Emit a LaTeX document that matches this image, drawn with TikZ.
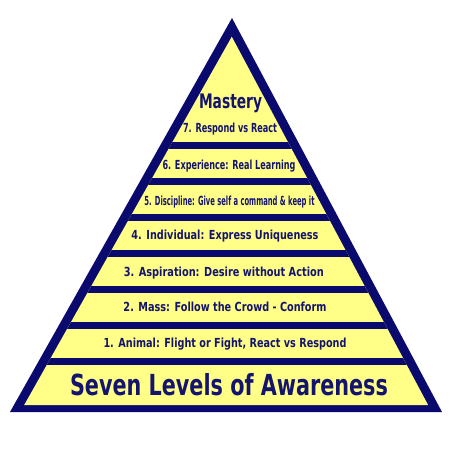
\documentclass[tikz,border=0pt]{standalone}
\usepackage{fontspec}
\setmainfont{DejaVu Sans}
\usepackage{graphicx}
\definecolor{navy}{HTML}{0A0A6E}
\definecolor{txtnavy}{HTML}{14146E}
\definecolor{pyellow}{HTML}{FFFF88}
\newcommand\squeeze[2]{\resizebox{#1}{\height}{#2}}
\begin{document}
\begin{tikzpicture}[x=1pt,y=-1pt,
  lab/.style={inner sep=0pt, anchor=base, text=txtnavy, font=\bfseries\fontsize{12.5}{14}\selectfont},
  biglab/.style={lab, font=\bfseries\fontsize{20}{22}\selectfont},
  hugelab/.style={lab, font=\bfseries\fontsize{29}{32}\selectfont},
]
\useasboundingbox (0,0) rectangle (450,450);
\fill[white] (0,0) rectangle (450,450);
% outer border
\fill[navy] (10,412) -- (232,18) -- (442,412) -- cycle;
% inner yellow with separator bars
\begin{scope}
  \clip (24.2,405) -- (231.8,36.7) -- (428.1,405) -- cycle;
  \fill[pyellow] (0,0) rectangle (450,450);
  \foreach \y in {145,181,217,253,289,325,361}
    \fill[navy] (0,\y-3.5) rectangle (450,\y+3.5);
\end{scope}
% labels
\node[biglab] (mastery) at (230.5,108) {\squeeze{63pt}{Mastery}};
\node[lab] (l7) at (230,132.6) {\squeeze{94pt}{7. Respond vs React}};
\node[lab] (l6) at (229,169.6) {\squeeze{133pt}{6. Experience: Real Learning}};
\node[lab] (l5) at (229.5,205.6) {\squeeze{170pt}{5. Discipline: Give self a command \& keep it}};
\node[lab] (l4) at (225,239.6) {\squeeze{187pt}{4. Individual: Express Uniqueness}};
\node[lab] (l3) at (223.8,276.3) {\squeeze{200pt}{3. Aspiration: Desire without Action}};
\node[lab] (l2) at (225,311.3) {\squeeze{203pt}{2. Mass: Follow the Crowd - Conform}};
\node[lab] (l1) at (225,347.6) {\squeeze{243pt}{1. Animal: Flight or Fight, React vs Respond}};
\node[hugelab] (title) at (229,395.5) {\squeeze{318pt}{Seven Levels of Awareness}};
\end{tikzpicture}
\end{document}
